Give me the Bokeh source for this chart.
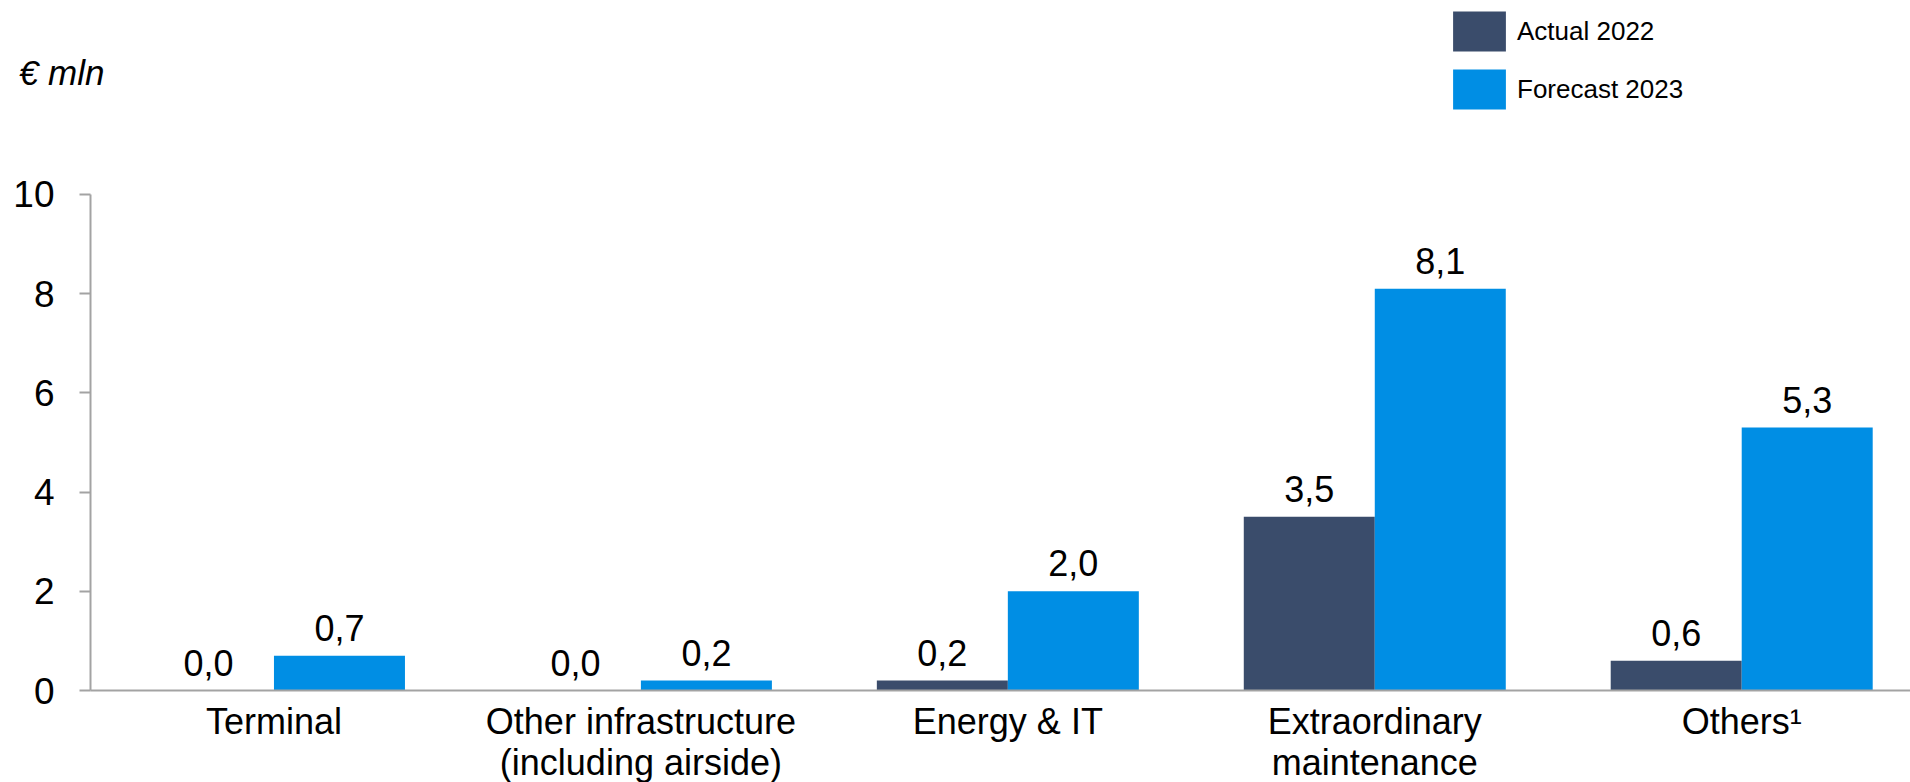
import numpy as np
from bokeh.plotting import figure
from bokeh.layouts import column
from bokeh.models import ColumnDataSource, FixedTicker, Legend, LegendItem
from bokeh.core.properties import value
from bokeh.embed import file_html
from bokeh.resources import INLINE

# Capex by category, € mln
categories = ["Terminal", "Other infrastructure\n(including airside)", "Energy & IT",
              "Extraordinary\nmaintenance", "Others\u00b9"]
actual_2022 = [0.0, 0.0, 0.2, 3.5, 0.6]
forecast_2023 = [0.7, 0.2, 2.0, 8.1, 5.3]
y_ticks = [0, 2, 4, 6, 8, 10]
series_names = ["Actual 2022", "Forecast 2023"]
unit_text = "€ mln"

DARK = "#3a4c6b"
BLUE = "#008ee4"
AXIS = "#a3a3a3"
FONT = "Liberation Sans"

HEADER_H = 120
LEFT = 90
bar_w = 0.357
pos = np.arange(len(categories))


def fmt(v):
    return f"{v:.1f}".replace(".", ",")


# ---- header strip: unit caption (as a one-tick axis) and legend ----
head = figure(width=1910, height=HEADER_H, output_backend="svg", toolbar_location=None,
              x_range=(0, 1), y_range=(0, 1), x_axis_location=None,
              min_border_left=LEFT, min_border_right=0, min_border_top=0, min_border_bottom=0)
head.grid.visible = False
head.outline_line_color = None

unit_tick = 0.4
hy = head.yaxis[0]
hy.ticker = FixedTicker(ticks=[unit_tick])
hy.major_label_overrides = {unit_tick: unit_text}
hy.axis_line_color = None
hy.major_tick_line_color = None
hy.minor_tick_line_color = None
hy.major_tick_in = 0
hy.major_tick_out = 0
hy.major_label_standoff = -14
hy.major_label_text_font = FONT
hy.major_label_text_font_style = "italic"
hy.major_label_text_font_size = "35px"
hy.major_label_text_color = "black"

# legend swatches (zero-height bars kept outside the header's range)
h_a = head.vbar(x=[-5], top=[0], width=0.1, fill_color=DARK, line_color=None)
h_f = head.vbar(x=[-5], top=[0], width=0.1, fill_color=BLUE, line_color=None)

legend = Legend(items=[LegendItem(label=series_names[0], renderers=[h_a]),
                       LegendItem(label=series_names[1], renderers=[h_f])],
                location=(1446 - LEFT, HEADER_H - 114), orientation="vertical",
                glyph_width=66, glyph_height=50, label_height=50, spacing=8,
                label_standoff=5, padding=0, margin=0,
                border_line_color=None, background_fill_alpha=0,
                label_text_font=FONT, label_text_font_size="26px",
                label_text_color="black")
head.add_layout(legend)

# ---- main bar chart ----
src_a = ColumnDataSource(dict(x=pos - bar_w / 2, top=actual_2022,
                              lbl=[fmt(v) for v in actual_2022]))
src_f = ColumnDataSource(dict(x=pos + bar_w / 2, top=forecast_2023,
                              lbl=[fmt(v) for v in forecast_2023]))

p = figure(frame_width=1820, frame_height=570,
           x_range=(-0.5, 4.46), y_range=(0, 11.49),
           output_backend="svg", toolbar_location=None,
           min_border_left=LEFT, min_border_right=0, min_border_top=0, min_border_bottom=92)
p.outline_line_color = None
p.grid.visible = False

p.vbar(x="x", top="top", width=bar_w, bottom=0, source=src_a,
       fill_color=DARK, line_color=None)
p.vbar(x="x", top="top", width=bar_w, bottom=0, source=src_f,
       fill_color=BLUE, line_color=None)

for src in (src_a, src_f):
    p.text(x="x", y="top", text="lbl", source=src, y_offset=-28,
           text_align="center", text_baseline="alphabetic",
           text_font=value(FONT), text_font_size="36px", text_color="black")

# y axis
ya = p.yaxis[0]
ya.ticker = FixedTicker(ticks=y_ticks)
ya.bounds = (0, 10)
ya.axis_line_color = AXIS
ya.axis_line_width = 2
ya.major_tick_line_color = AXIS
ya.major_tick_line_width = 2
ya.major_tick_in = 0
ya.major_tick_out = 11
ya.minor_tick_line_color = None
ya.major_label_standoff = 25
ya.major_label_text_font = FONT
ya.major_label_text_font_size = "37px"
ya.major_label_text_color = "black"

# x axis with category names
xa = p.xaxis[0]
xa.ticker = FixedTicker(ticks=list(pos))
xa.major_label_overrides = {int(i): c for i, c in zip(pos, categories)}
xa.axis_line_color = AXIS
xa.axis_line_width = 2
xa.major_tick_line_color = None
xa.major_tick_in = 0
xa.major_tick_out = 0
xa.minor_tick_line_color = None
xa.major_label_standoff = 10
xa.major_label_text_font = FONT
xa.major_label_text_font_size = "36px"
xa.major_label_text_color = "black"
xa.major_label_text_line_height = 1.02

layout = column(head, p, spacing=0)
open("out.html", "w").write(file_html(layout, INLINE))
